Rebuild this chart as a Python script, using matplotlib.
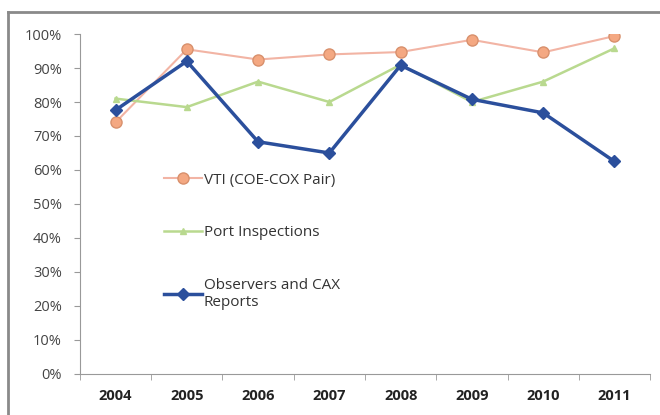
import matplotlib
matplotlib.use('Agg')
import matplotlib.pyplot as plt
from matplotlib.lines import Line2D
from matplotlib.ticker import PercentFormatter

years = ['2004', '2005', '2006', '2007', '2008', '2009', '2010', '2011']
vti = [74, 95.5, 92.5, 94, 94.7, 98.3, 94.6, 99.4]
port = [81, 78.5, 86, 80, 91, 80, 86, 95.8]
observers = [77.6, 92, 68.3, 65, 90.8, 80.8, 76.8, 62.5]

labels = ['VTI (COE-COX Pair)', 'Port Inspections', 'Observers and CAX\nReports']

plt.rcParams['font.family'] = ['Open Sans', 'DejaVu Sans']

fig = plt.figure(figsize=(6.6, 4.15), dpi=100)
ax = fig.add_axes([0.121, 0.099, 0.864, 0.819])

x = list(range(len(years)))

ax.plot(x, vti, '-', color='#f2b4a4', linewidth=1.5, marker='o', markersize=8,
        markerfacecolor='#f4a882', markeredgecolor='#d8906c', label=labels[0])
ax.plot(x, port, '-', color='#b9d98f', linewidth=1.8, marker='^', markersize=4,
        markerfacecolor='#b9d98f', markeredgecolor='#b9d98f', label=labels[1])
ax.plot(x, observers, '-', color='#2b4f9c', linewidth=2.5, marker='D', markersize=6,
        markerfacecolor='#2b4f9c', markeredgecolor='#2b4f9c', label=labels[2])

# Limits
ax.set_xlim(-0.5, len(years) - 0.5)
ax.set_ylim(0, 100)

# Ticks
ax.set_yticks(range(0, 101, 10))
ax.yaxis.set_major_formatter(PercentFormatter(decimals=0))
ax.set_xticks(x)
ax.set_xticklabels(years, fontweight='bold')
ax.set_xticks([i + 0.5 for i in range(-1, len(years))], minor=True)
ax.tick_params(axis='x', which='major', length=0, labelsize=10.5, pad=11, colors='#222222')
ax.tick_params(axis='x', which='minor', length=4, color='#999999')
ax.tick_params(axis='y', length=4, color='#999999', labelcolor='#444444', labelsize=10.5, pad=9)

# Style
ax.spines['top'].set_visible(False)
ax.spines['right'].set_visible(False)
ax.spines['left'].set_color('#999999')
ax.spines['bottom'].set_color('#999999')

leg = ax.legend(loc='upper left', bbox_to_anchor=(0.137, 0.61), frameon=False,
                fontsize=11, handlelength=2.5, handletextpad=0.1, labelspacing=2.45,
                borderaxespad=0)
for t in leg.get_texts():
    t.set_color('#333333')

# Outer chart border
fig.add_artist(Line2D([8 / 660, 8 / 660], [0, 1 - 12 / 415], color='#8a8a8a', linewidth=2))
fig.add_artist(Line2D([8 / 660, 1], [1 - 12 / 415, 1 - 12 / 415], color='#8a8a8a', linewidth=2))

fig.savefig('out.png', dpi=100)
